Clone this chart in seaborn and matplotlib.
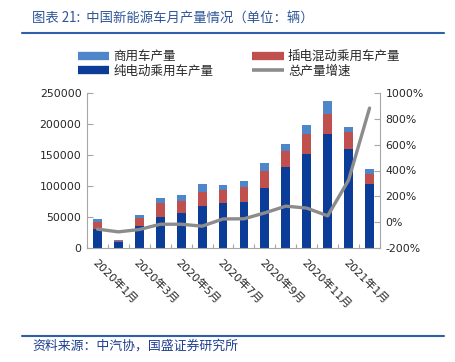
import numpy as np
import pandas as pd
import matplotlib
matplotlib.use("Agg")
import matplotlib.pyplot as plt
from matplotlib.lines import Line2D
import seaborn as sns

months = ["2020年1月", "2020年2月", "2020年3月", "2020年4月", "2020年5月", "2020年6月", "2020年7月",
          "2020年8月", "2020年9月", "2020年10月", "2020年11月", "2020年12月", "2021年1月", "2021年2月"]
bev = [30000, 9000, 36000, 50000, 56500, 67700, 72000, 73600, 96000, 130000, 151000, 184000, 159000, 104000]
phev = [12000, 2000, 12000, 22000, 20000, 23000, 21000, 25000, 29000, 27000, 33000, 32000, 28000, 16000]
commercial = [4500, 1500, 5000, 9000, 9500, 12000, 8000, 9000, 12000, 11000, 14500, 21500, 8000, 8000]
growth = [-54, -75, -57, -16, -16, -31, 25, 26, 72, 124, 109, 49, 326, 883]

sns.set_theme(style="white")
plt.rcParams['font.family'] = ['DejaVu Sans', 'Noto Sans CJK SC']

C_LB = "#4F86CA"
C_RED = "#C0504D"
C_DB = "#0A3C98"
C_GRAY = "#8C8C8C"
SP = "#A6A6A6"

df = pd.DataFrame({"month": months, "bev": bev, "phev": phev, "com": commercial, "growth": growth})
df["s2"] = df["bev"] + df["phev"]
df["s3"] = df["s2"] + df["com"]

fig = plt.figure(figsize=(4.56, 3.62), dpi=100)
ax = fig.add_axes([87/456, 1-248/362, (380-87)/456, (248-93)/362])

bw = 0.42
sns.barplot(data=df, x="month", y="s3", color=C_LB, width=bw, saturation=1, ax=ax, linewidth=0)
sns.barplot(data=df, x="month", y="s2", color=C_RED, width=bw, saturation=1, ax=ax, linewidth=0)
sns.barplot(data=df, x="month", y="bev", color=C_DB, width=bw, saturation=1, ax=ax, linewidth=0)

ax.set_ylim(0, 250000)
ax.set_xlim(-0.5, 13.5)
ax.set_yticks(np.arange(0, 250001, 50000))
ax.set_yticklabels([f"{int(v)}" for v in np.arange(0, 250001, 50000)], fontsize=7.8)
ax.set_xticks(range(0, 14, 2))
ax.set_xticklabels([months[i] for i in range(0, 14, 2)], rotation=-45, ha="left", va="top",
                   rotation_mode="anchor", fontsize=8)
ax.set_xticks(np.arange(-0.5, 14, 1), minor=True)
ax.tick_params(axis="x", which="major", length=0, pad=7)
ax.tick_params(axis="x", which="minor", direction="in", length=3, color=SP, width=0.8, bottom=True)
ax.tick_params(axis="y", direction="in", length=4, color=SP, width=0.8, left=True, pad=4)
ax.set_xlabel("")
ax.set_ylabel("")
for s in ["top", "right"]:
    ax.spines[s].set_visible(False)
for s in ["left", "bottom"]:
    ax.spines[s].set_color(SP)
    ax.spines[s].set_linewidth(0.8)

ax2 = ax.twinx()
sns.lineplot(x=np.arange(len(months)), y=df["growth"], color=C_GRAY, linewidth=2.4, ax=ax2)
ax2.set_ylim(-200, 1000)
ax2.set_yticks(np.arange(-200, 1001, 200))
ax2.set_yticklabels([f"{v}%" for v in np.arange(-200, 1001, 200)], fontsize=7.8)
ax2.tick_params(axis="y", direction="in", length=4, color=SP, width=0.8, right=True, pad=4)
ax2.set_ylabel("")
for s in ["top", "left", "bottom"]:
    ax2.spines[s].set_visible(False)
ax2.spines["right"].set_color(SP)
ax2.spines["right"].set_linewidth(0.8)
ax2.set_xlim(-0.5, 13.5)

handles = [Line2D([0], [0], color=C_LB, lw=6, solid_capstyle="butt"),
           Line2D([0], [0], color=C_DB, lw=6, solid_capstyle="butt"),
           Line2D([0], [0], color=C_RED, lw=6, solid_capstyle="butt"),
           Line2D([0], [0], color=C_GRAY, lw=2.6, solid_capstyle="butt")]
labels = ["商用车产量", "纯电动乘用车产量", "插电混动乘用车产量", "总产量增速"]
fig.legend(handles, labels, ncol=2, loc="upper left", bbox_to_anchor=(78/456, 1-50/362),
           frameon=False, prop={"family": ["Noto Sans CJK SC"], "size": 9},
           handlelength=2.5, handletextpad=0.35, columnspacing=3.1, labelspacing=0.12,
           borderaxespad=0, borderpad=0)

fig.text(32/456, 1-19/362, "图表 21:  中国新能源车月产量情况（单位：辆）", fontsize=9.6,
         color="#2E5597", family=["Noto Sans CJK SC"], va="center", ha="left", style="italic")
fig.add_artist(Line2D([22/456, 444/456], [1-33/362, 1-33/362], color="#2E5FA8", lw=1.5,
                      transform=fig.transFigure))
fig.add_artist(Line2D([22/456, 444/456], [1-336/362, 1-336/362], color="#2E5FA8", lw=1.5,
                      transform=fig.transFigure))
fig.text(32/456, 1-346/362, "资料来源：中汽协，国盛证券研究所", fontsize=9.3,
         color="#1F3F8F", family=["Noto Sans CJK SC"], va="center", ha="left", style="italic")

fig.savefig("out.png", dpi=100)
